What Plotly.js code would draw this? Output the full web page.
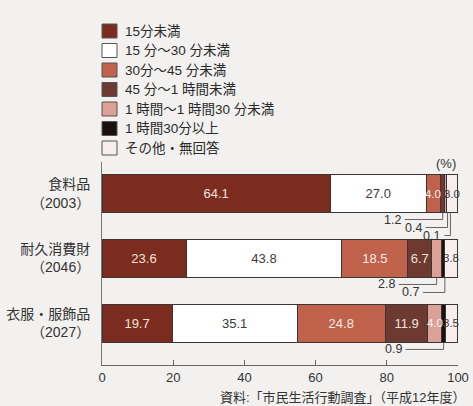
<!DOCTYPE html>
<html><head><meta charset="utf-8">
<script src="https://cdn.plot.ly/plotly-3.0.1.min.js"></script>
<style>body{margin:0;background:#f2f1ef}</style>
</head><body><div id="chart" style="width:473px;height:406px"></div>
<script>
// ---- data ----
const categories = ['食料品<br>（2003）', '耐久消費財<br>（2046）', '衣服・服飾品<br>（2027）'];
const seriesNames = ['15分未満', '15 分～30 分未満', '30分～45 分未満', '45 分～1 時間未満', '1 時間～1 時間30 分未満', '1 時間30分以上', 'その他・無回答'];
const under15 = [64.1, 23.6, 19.7];
const m15to30 = [27.0, 43.8, 35.1];
const m30to45 = [4.0, 18.5, 24.8];
const m45to60 = [1.2, 6.7, 11.9];
const h1to1h30 = [0.4, 2.8, 4.0];
const over1h30 = [0.1, 0.7, 0.9];
const other = [3.0, 3.8, 3.5];
const xTicks = [0, 20, 40, 60, 80, 100];
const unitLabel = '(%)';
const sourceNote = '資料:「市民生活行動調査」（平成12年度）';

// ---- styles ----
const colors = ['#7c2b1f', '#ffffff', '#c0614b', '#6c3a31', '#dba096', '#1a1010', '#f6eeec'];
const textColors = ['#f3e3dc', '#3a3a3a', '#f7ebe6', '#f3e3dc', '#fbf3f0', '#ffffff', '#3a3a3a'];
const FONT = 'Liberation Sans, Noto Sans CJK JP, sans-serif';
const series = [under15, m15to30, m30to45, m45to60, h1to1h30, over1h30, other];
const yIdx = categories.map((_, i) => i);
const bargap = 0.415;
const barW = 1 - bargap;
const INSIDE_MIN = 3;   // below: label outside with leader line
const BIG_MIN = 6;      // below: narrow segment, label drawn as overlay

// plot-area pixel geometry (for paper-coordinate placement of decorations)
const L = 102, R = 15, T = 162, B = 41, W = 473, H = 406;
const pw = W - L - R, ph = H - T - B;
const fx = px => (px - L) / pw;
const fy = py => (H - B - py) / ph;

const traces = series.map((vals, s) => ({
  type: 'bar', orientation: 'h', name: seriesNames[s],
  x: vals, y: yIdx,
  marker: {color: colors[s], line: {color: '#3d3535', width: 1}},
  text: vals.map(v => v >= BIG_MIN ? v.toFixed(1) : ''),
  textposition: 'inside', insidetextanchor: 'middle', constraintext: 'none', textangle: 0,
  insidetextfont: {family: FONT, color: textColors[s], size: 13},
  hoverinfo: 'skip', showlegend: false
}));

const shapes = [], annotations = [];

yIdx.forEach(c => {
  let cum = 0, k = 0;
  series.forEach((vals, s) => {
    const v = vals[c];
    const mid = cum + v / 2;
    cum += v;
    if (v >= BIG_MIN) return;
    if (v >= INSIDE_MIN) {
      // narrow segment: value overlaid at segment centre
      annotations.push({
        x: mid, y: c, xref: 'x', yref: 'y', xanchor: 'center', yanchor: 'middle', showarrow: false,
        text: v.toFixed(1), font: {family: FONT, size: 11.5, color: textColors[s]}
      });
      return;
    }
    // tiny segment: leader line to a label below the bar
    const xoff = 2 * k, ylev = -(7 + 8 * k), gap = 40 - 16 * k;
    shapes.push({
      type: 'path', xref: 'x', yref: 'y', xsizemode: 'pixel', ysizemode: 'pixel',
      xanchor: mid, yanchor: c + barW / 2,
      path: `M${xoff - gap + 2},${ylev} H${xoff} V0`,
      line: {color: '#555', width: 0.9}
    });
    annotations.push({
      x: mid, y: c + barW / 2, xref: 'x', yref: 'y', xshift: xoff - gap, yshift: ylev,
      xanchor: 'right', yanchor: 'middle', showarrow: false, text: v.toFixed(1),
      font: {family: FONT, size: 12.5, color: '#333'}
    });
    k++;
  });
});

// manual legend
seriesNames.forEach((nm, s) => {
  const cy = 31 + 19.5 * s;
  shapes.push({type: 'rect', xref: 'paper', yref: 'paper', x0: fx(102), x1: fx(117), y0: fy(cy + 7), y1: fy(cy - 7),
    fillcolor: colors[s], line: {color: '#555', width: 1}});
  annotations.push({xref: 'paper', yref: 'paper', x: fx(123), y: fy(cy), xanchor: 'left', yanchor: 'middle',
    showarrow: false, text: nm, font: {family: FONT, size: 13.5, color: '#2a2a2a'}});
});

annotations.push({xref: 'paper', yref: 'paper', x: fx(446), y: fy(163), xanchor: 'center', yanchor: 'middle',
  showarrow: false, text: unitLabel, font: {family: FONT, size: 13, color: '#333'}});
annotations.push({xref: 'paper', yref: 'paper', x: fx(468), y: fy(397), xanchor: 'right', yanchor: 'middle',
  showarrow: false, text: sourceNote, font: {family: FONT, size: 13, color: '#333'}});

const layout = {
  width: W, height: H,
  margin: {l: L, r: R, t: T, b: B, autoexpand: false},
  paper_bgcolor: '#f2f1ef', plot_bgcolor: '#f2f1ef',
  barmode: 'stack', bargap: bargap,
  font: {family: FONT, color: '#333'},
  xaxis: {range: [0, 100], tickvals: xTicks, ticks: 'inside', ticklen: 5, tickcolor: '#666',
    showline: true, linecolor: '#666', linewidth: 1, showgrid: false, zeroline: false,
    tickfont: {family: FONT, size: 13, color: '#333'}},
  yaxis: {range: [2.64, -0.485], tickvals: yIdx, ticktext: categories, ticks: '',
    showline: true, linecolor: '#777', linewidth: 1, showgrid: false, zeroline: false,
    ticklabelstandoff: 8, tickfont: {family: FONT, size: 14, color: '#333'}},
  shapes: shapes, annotations: annotations, showlegend: false
};

Plotly.newPlot('chart', traces, layout, {displayModeBar: false, staticPlot: true});
</script></body></html>
